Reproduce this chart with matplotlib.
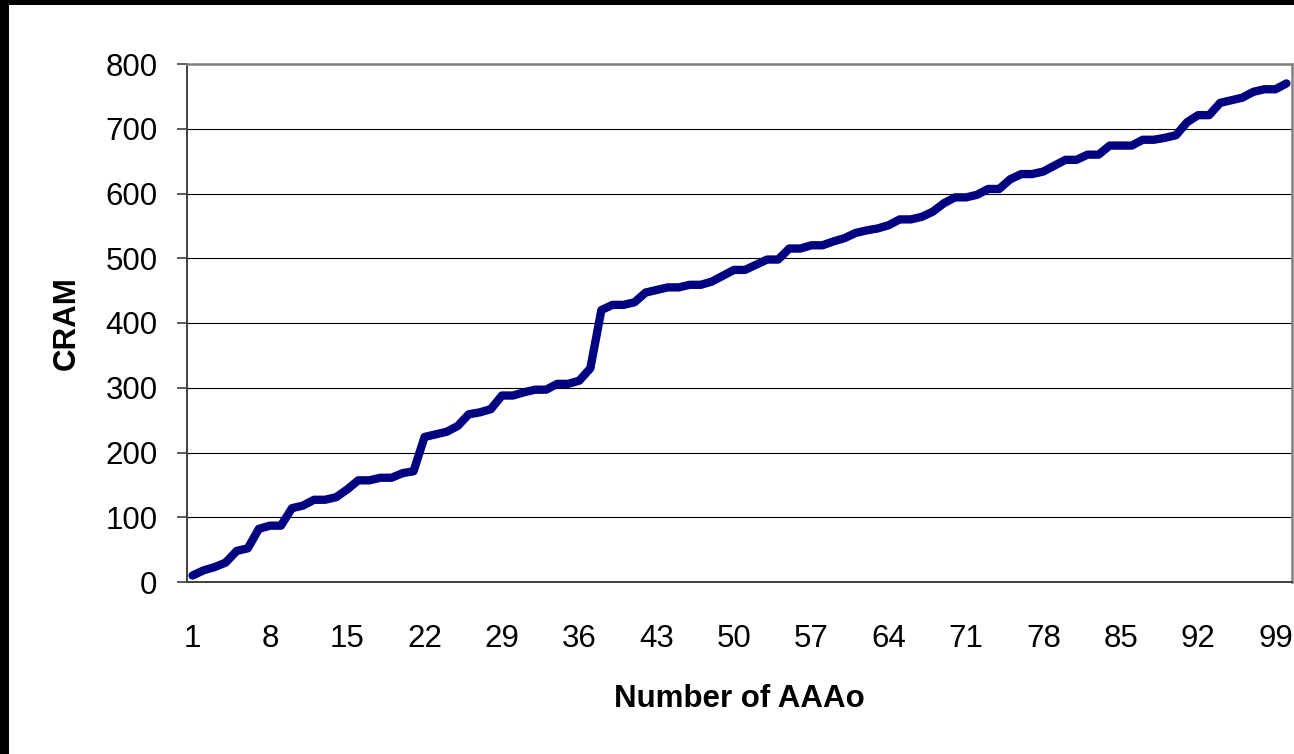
import numpy as np
import matplotlib.pyplot as plt
from matplotlib.patches import Rectangle

plt.rcParams['font.family'] = ['Liberation Sans', 'DejaVu Sans']

# CRAM value for each AAAo, 1..100
cram = [10, 18, 23, 30, 48, 52, 82, 87, 87, 114,
        118, 127, 127, 131, 143, 157, 157, 161, 161, 168,
        171, 224, 228, 232, 241, 259, 262, 267, 288, 288,
        293, 297, 297, 306, 306, 311, 330, 420, 428, 428,
        432, 447, 451, 455, 455, 459, 459, 464, 473, 482,
        482, 490, 498, 498, 515, 515, 520, 520, 526, 531,
        539, 543, 546, 551, 560, 560, 564, 572, 585, 594,
        594, 598, 607, 607, 622, 630, 630, 634, 643, 652,
        652, 660, 660, 674, 674, 674, 683, 683, 686, 690,
        710, 721, 721, 740, 744, 748, 757, 761, 761, 770]
aaao = np.arange(1, len(cram) + 1)
xticks = list(range(1, 100, 7))
yticks = list(range(0, 801, 100))

W, H = 1294, 754
fig = plt.figure(figsize=(W / 100, H / 100), dpi=100)
fig.patch.set_facecolor('white')
# black frame bits at top and left
fig.patches.append(Rectangle((0, 1 - 5 / H), 1, 5 / H, transform=fig.transFigure,
                             facecolor='black', edgecolor='none', zorder=0))
fig.patches.append(Rectangle((0, 0), 9 / W, 1, transform=fig.transFigure,
                             facecolor='black', edgecolor='none', zorder=0))

x0, x1 = 187 / W, 1292 / W
y0, y1 = 1 - 582 / H, 1 - 64 / H
ax = fig.add_axes([x0, y0, x1 - x0, y1 - y0])

ax.plot(aaao, cram, color='#000080', lw=6.0,
        solid_capstyle='round', solid_joinstyle='round', zorder=3)

ax.set_xlim(0.5, len(cram) + 0.5)
ax.set_ylim(0, 800)
ax.set_yticks(yticks)
ax.set_xticks(xticks)
ax.yaxis.grid(True, color='black', lw=0.8)
ax.set_axisbelow(True)

ax.tick_params(axis='y', length=7.2, width=1.2, color='#404040',
               pad=14, labelsize=22.5)
ax.tick_params(axis='x', length=0, pad=30, labelsize=22.5)

for s in ['top', 'right']:
    ax.spines[s].set_color('#808080')
    ax.spines[s].set_linewidth(1.8)
for s in ['left', 'bottom']:
    ax.spines[s].set_color('#404040')
    ax.spines[s].set_linewidth(1.4)

ax.set_xlabel('Number of AAAo', fontsize=22.5, fontweight='bold', labelpad=22)
ax.set_ylabel('CRAM', fontsize=22.5, fontweight='bold', labelpad=17)

fig.savefig('out.png', dpi=100)
